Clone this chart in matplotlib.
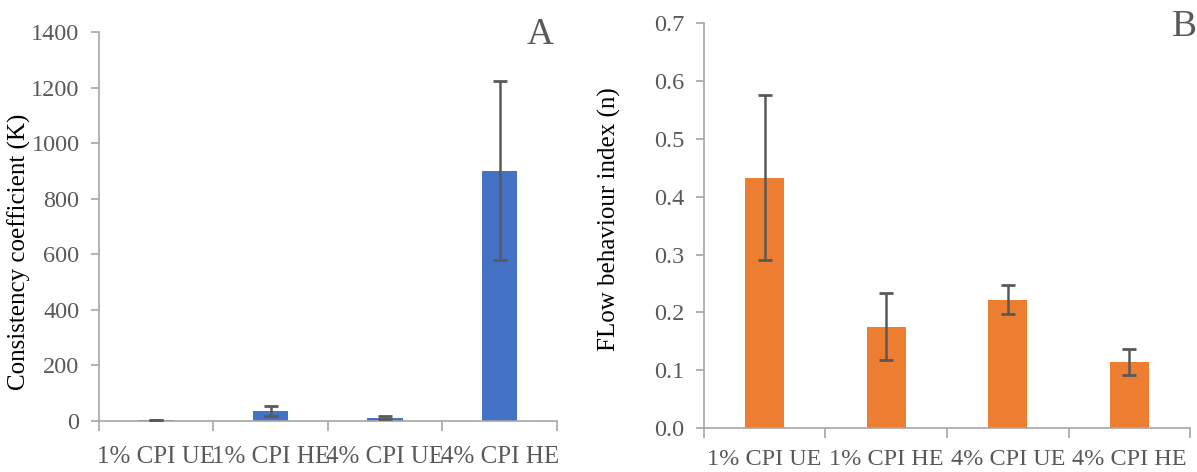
import numpy as np
import matplotlib.pyplot as plt
from matplotlib.ticker import FixedLocator, FormatStrFormatter

plt.rcParams['font.family'] = ['Liberation Serif', 'DejaVu Serif']

# data
samples = ['1% CPI UE', '1% CPI HE', '4% CPI UE', '4% CPI HE']
k_mean = [3, 36, 12, 900]
k_err = [1, 18, 5, 322]
n_mean = [0.433, 0.175, 0.222, 0.114]
n_err = [0.143, 0.058, 0.025, 0.022]

txt = '#595959'
axc = '#a6a6a6'

fig = plt.figure(figsize=(11.97, 4.72), dpi=100)
ax1 = fig.add_axes([0.0827, 0.1081, 0.3826, 0.8241])
ax2 = fig.add_axes([0.5881, 0.0932, 0.4061, 0.8574])


def style(ax, ylim, yticks, xpad, xsize):
    x = np.arange(len(samples))
    ax.set_xlim(-0.5, len(samples) - 0.5)
    ax.set_ylim(*ylim)
    ax.set_yticks(yticks)
    ax.set_xticks(x)
    ax.set_xticklabels(samples)
    ax.xaxis.set_minor_locator(FixedLocator(np.arange(len(samples) + 1) - 0.5))
    ax.tick_params(axis='x', which='major', length=0, pad=xpad, labelsize=xsize, labelcolor=txt)
    ax.tick_params(axis='x', which='minor', length=7, width=1.2, color=axc, direction='out')
    ax.tick_params(axis='y', length=6, width=1.2, color=axc, labelsize=17.5, labelcolor=txt, pad=8)
    for s in ['top', 'right']:
        ax.spines[s].set_visible(False)
    for s in ['left', 'bottom']:
        ax.spines[s].set_color(axc)
        ax.spines[s].set_linewidth(1.2)


x = np.arange(len(samples))
ax1.bar(x, k_mean, width=0.31, color='#4472c4', zorder=2)
ax1.errorbar(x, k_mean, yerr=k_err, fmt='none', ecolor=txt, elinewidth=1.8,
             capsize=4.7, capthick=2, zorder=3)
style(ax1, (0, 1400), np.arange(0, 1401, 200), 18, 18)
ax1.set_ylabel('Consistency coefficient (K)', fontsize=18, color='black')
ax1.yaxis.set_label_coords(-0.148, 0.434)
ax1.text(0.963, 0.992, 'A', transform=ax1.transAxes, fontsize=27, color=txt,
         ha='center', va='center')

ax2.bar(x, n_mean, width=0.32, color='#ed7d31', zorder=2)
ax2.errorbar(x, n_mean, yerr=n_err, fmt='none', ecolor=txt, elinewidth=1.8,
             capsize=4.7, capthick=2, zorder=3)
style(ax2, (0, 0.7), np.arange(0, 0.71, 0.1), 15, 17.5)
ax2.yaxis.set_major_formatter(FormatStrFormatter('%.1f'))
ax2.set_ylabel('FLow behaviour index (n)', fontsize=18, color='black')
ax2.yaxis.set_label_coords(-0.17, 0.517)
ax2.text(0.988, 0.991, 'B', transform=ax2.transAxes, fontsize=27, color=txt,
         ha='center', va='center')

fig.savefig('out.png', dpi=100)
